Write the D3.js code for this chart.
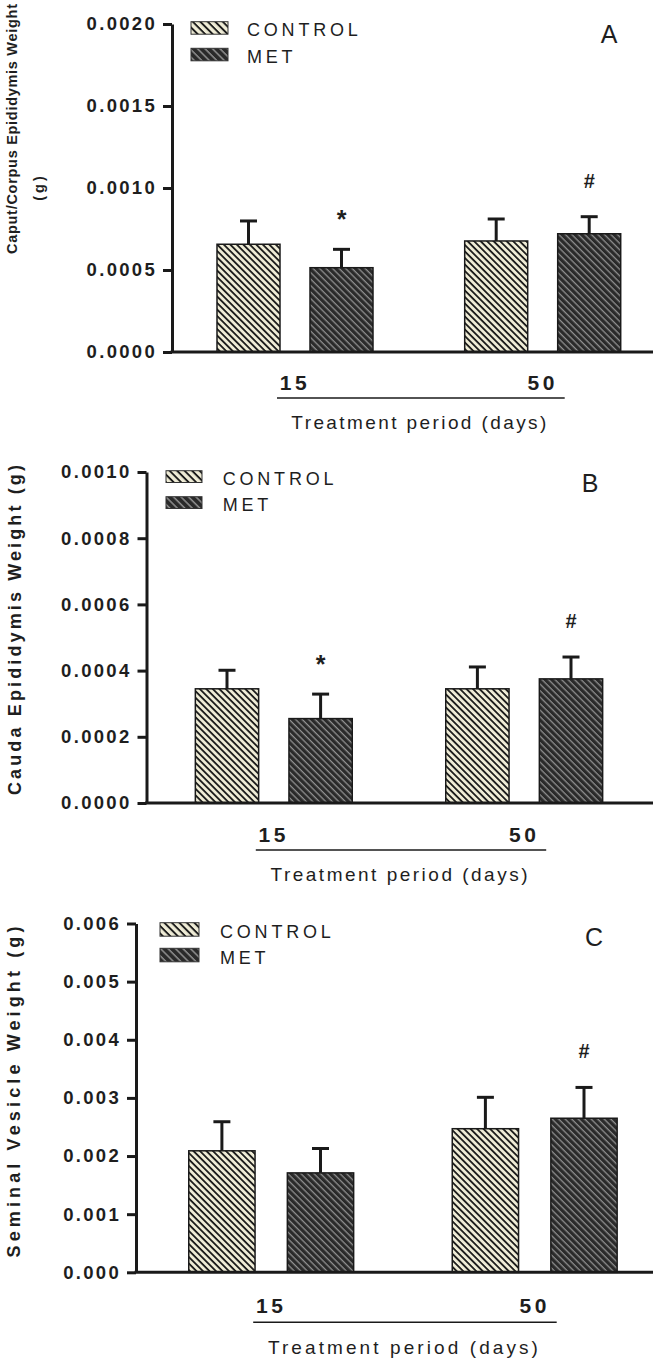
<!DOCTYPE html>
<html><head><meta charset="utf-8">
<script src="https://cdn.jsdelivr.net/npm/d3@7"></script>
<style>
body{margin:0;background:#fff;}
svg{display:block;}
text{font-family:"Liberation Sans", Arial, sans-serif;fill:#1e1e1e;}
</style></head><body>
<svg id="chart" width="670" height="1360"></svg>
<script>
// ---------- data ----------
const groups = ["15","50"];
const seriesNames = ["CONTROL","MET"];
const xTitle = "Treatment period (days)";

// Panel A
const titleA = ["Caput/Corpus Epididymis Weight","(g)"];
const ticksA = [0,0.0005,0.0010,0.0015,0.0020];
const controlA = [0.000657,0.000677];
const controlErrA = [0.000142,0.000134];
const metA = [0.000514,0.000721];
const metErrA = [0.000112,0.000104];
const marksA = ["*","#"];

// Panel B
const titleB = ["Cauda Epididymis Weight (g)"];
const ticksB = [0,0.0002,0.0004,0.0006,0.0008,0.0010];
const controlB = [0.000345,0.000345];
const controlErrB = [0.000056,0.000066];
const metB = [0.000255,0.000375];
const metErrB = [0.000074,0.000066];
const marksB = ["*","#"];

// Panel C
const titleC = ["Seminal Vesicle Weight (g)"];
const ticksC = [0,0.001,0.002,0.003,0.004,0.005,0.006];
const controlC = [0.00209,0.00247];
const controlErrC = [0.00050,0.00054];
const metC = [0.00171,0.00265];
const metErrC = [0.00042,0.00053];
const marksC = ["","#"];

// ---------- layout ----------
const panels = [
  {letter:"A", title:titleA, ticks:ticksA, fmt:".4f",
   vals:[controlA,metA], errs:[controlErrA,metErrA], marks:marksA,
   axisX:172, yTop:24, y0:352, g1:295, g2:542.7, barW:63, gap:30,
   legX:191, legY:[21.7,48.3], swW:37, swH:12.5, legTX:247,
   letX:609, letY:42.7, titleFont:14.5, titleBase:[17,44], titleMid:[129,187], titleLen:[250,null],
   xTitleLen:255, labDy:38, lineDy:46, xtDy:77},
  {letter:"B", title:titleB, ticks:ticksB, fmt:".4f",
   vals:[controlB,metB], errs:[controlErrB,metErrB], marks:marksB,
   axisX:146.5, yTop:472, y0:803, g1:273.8, g2:524.2, barW:63.3, gap:30.3,
   legX:166, legY:[470.7,496.7], swW:36, swH:11.8, legTX:222.7,
   letX:590, letY:492, titleFont:18, titleBase:[21], titleMid:[630], titleLen:[330],
   xTitleLen:257, labDy:39, lineDy:47, xtDy:78},
  {letter:"C", title:titleC, ticks:ticksC, fmt:".3f",
   vals:[controlC,metC], errs:[controlErrC,metErrC], marks:marksC,
   axisX:136, yTop:923.5, y0:1272.3, g1:271.2, g2:534.7, barW:66.3, gap:32.3,
   legX:160, legY:[922.7,948.3], swW:39, swH:13.5, legTX:220,
   letX:594, letY:946, titleFont:18, titleBase:[20], titleMid:[1092], titleLen:[331],
   xTitleLen:270, labDy:41, lineDy:50, xtDy:82}
];

const svg = d3.select("#chart");
const defs = svg.append("defs");
const CREAM = "#efecd6", DARK = "#2a2a2a", INK = "#1a1a1a";

function hatch(id, period, bg, fg, th){
  const p = defs.append("pattern").attr("id", id)
    .attr("patternUnits","userSpaceOnUse").attr("width",period).attr("height",period)
    .attr("patternTransform","rotate(45)");
  p.append("rect").attr("width",period).attr("height",period).attr("fill",bg);
  p.append("rect").attr("width",period).attr("height",th).attr("fill",fg);
}
hatch("hCtrl", 4.6, CREAM, INK, 1.8);
hatch("hMet", 4.6, DARK, "#8f8f8f", 1.3);
hatch("lCtrl", 5.3, CREAM, INK, 1.9);
hatch("lMet", 5.3, DARK, "#8f8f8f", 1.5);
const fills = ["url(#hCtrl)","url(#hMet)"];
const legFills = ["url(#lCtrl)","url(#lMet)"];

panels.forEach(P => {
  const g = svg.append("g");
  const max = P.ticks[P.ticks.length-1];
  const y = d3.scaleLinear().domain([0,max]).range([P.y0, P.yTop]);
  const d = P.g2 - P.g1;
  const x0 = d3.scaleBand().domain(groups).range([P.g1 - d/2, P.g2 + d/2]).padding(0);
  const x1 = d3.scaleBand().domain(seriesNames)
    .range([d/2 - P.barW - P.gap/2, d/2 + P.barW + P.gap/2])
    .paddingInner(P.gap/(P.barW+P.gap)).paddingOuter(0);

  const rows = [];
  groups.forEach((grp,gi) => seriesNames.forEach((s,si) => {
    rows.push({grp, s, si, v:P.vals[si][gi], e:P.errs[si][gi], mark: si===1 ? P.marks[gi] : ""});
  }));
  const bx = r => x0(r.grp) + x1(r.s);
  const cx = r => bx(r) + x1.bandwidth()/2;

  g.selectAll("rect.bar").data(rows).join("rect").attr("class","bar")
    .attr("x", bx).attr("width", x1.bandwidth())
    .attr("y", r => y(r.v)).attr("height", r => y(0) - y(r.v))
    .attr("fill", r => fills[r.si]).attr("stroke", INK).attr("stroke-width",1.5);

  g.selectAll("line.err").data(rows).join("line").attr("class","err")
    .attr("x1", cx).attr("x2", cx).attr("y1", r => y(r.v)).attr("y2", r => y(r.v + r.e))
    .attr("stroke", INK).attr("stroke-width",3);
  g.selectAll("line.cap").data(rows).join("line").attr("class","cap")
    .attr("x1", r => cx(r) - 8.5).attr("x2", r => cx(r) + 8.5)
    .attr("y1", r => y(r.v + r.e)).attr("y2", r => y(r.v + r.e))
    .attr("stroke", INK).attr("stroke-width",3);

  g.selectAll("text.mark").data(rows.filter(r => r.mark)).join("text").attr("class","mark")
    .attr("x", cx).attr("y", r => y(r.v + r.e) - (r.mark === "*" ? 21 : 29))
    .attr("text-anchor","middle").attr("font-weight","bold")
    .attr("font-size", r => r.mark === "*" ? 25 : 20).text(r => r.mark);

  const ax = g.append("g").attr("transform",`translate(${P.axisX},0)`)
    .call(d3.axisLeft(y).tickValues(P.ticks).tickFormat(d3.format(P.fmt))
      .tickSize(9).tickSizeOuter(0).tickPadding(6));
  ax.select(".domain").attr("stroke",INK).attr("stroke-width",3);
  ax.selectAll(".tick line").attr("stroke",INK).attr("stroke-width",3);
  ax.selectAll(".tick text").attr("font-family","'Liberation Sans', Arial, sans-serif")
    .attr("font-size",18.5).attr("font-weight","bold").attr("fill","#1e1e1e")
    .style("letter-spacing","2.3px");

  g.append("line").attr("x1",P.axisX - 1.5).attr("x2",653).attr("y1",P.y0).attr("y2",P.y0)
    .attr("stroke",INK).attr("stroke-width",3);

  g.selectAll("text.grp").data(groups).join("text").attr("class","grp")
    .attr("x", gg => x0(gg) + d/2).attr("y", P.y0 + P.labDy)
    .attr("text-anchor","middle").attr("font-weight","bold").attr("font-size",21)
    .style("letter-spacing","3.5px").text(gg => gg);

  g.append("line").attr("x1", x0(groups[0]) + d/2 - 18).attr("x2", x0(groups[1]) + d/2 + 22)
    .attr("y1", P.y0 + P.lineDy).attr("y2", P.y0 + P.lineDy)
    .attr("stroke", INK).attr("stroke-width",1.5);

  g.append("text").attr("x",(P.g1+P.g2)/2).attr("y",P.y0 + P.xtDy)
    .attr("text-anchor","middle").attr("font-size",19)
    .attr("textLength",P.xTitleLen).attr("lengthAdjust","spacing").text(xTitle);

  P.title.forEach((t,i) => {
    const tt = g.append("text")
      .attr("transform",`translate(${P.titleBase[i]},${P.titleMid[i]}) rotate(-90)`)
      .attr("text-anchor","middle").attr("font-weight","bold").attr("font-size",P.titleFont)
      .text(t);
    if (P.titleLen[i]) tt.attr("textLength",P.titleLen[i]).attr("lengthAdjust","spacing");
    else tt.style("letter-spacing","3px");
  });

  seriesNames.forEach((s,si) => {
    g.append("rect").attr("x",P.legX).attr("y",P.legY[si]).attr("width",P.swW).attr("height",P.swH)
      .attr("fill",legFills[si]).attr("stroke","#333").attr("stroke-width",1);
    g.append("text").attr("x",P.legTX).attr("y",P.legY[si] + P.swH/2 + 8.5)
      .attr("font-size",18).style("letter-spacing","3.8px").text(s);
  });

  g.append("text").attr("x",P.letX).attr("y",P.letY).attr("text-anchor","middle")
    .attr("font-family","'Open Sans', sans-serif").attr("font-size",25).attr("fill","#222")
    .text(P.letter);
});
</script>
</body></html>
